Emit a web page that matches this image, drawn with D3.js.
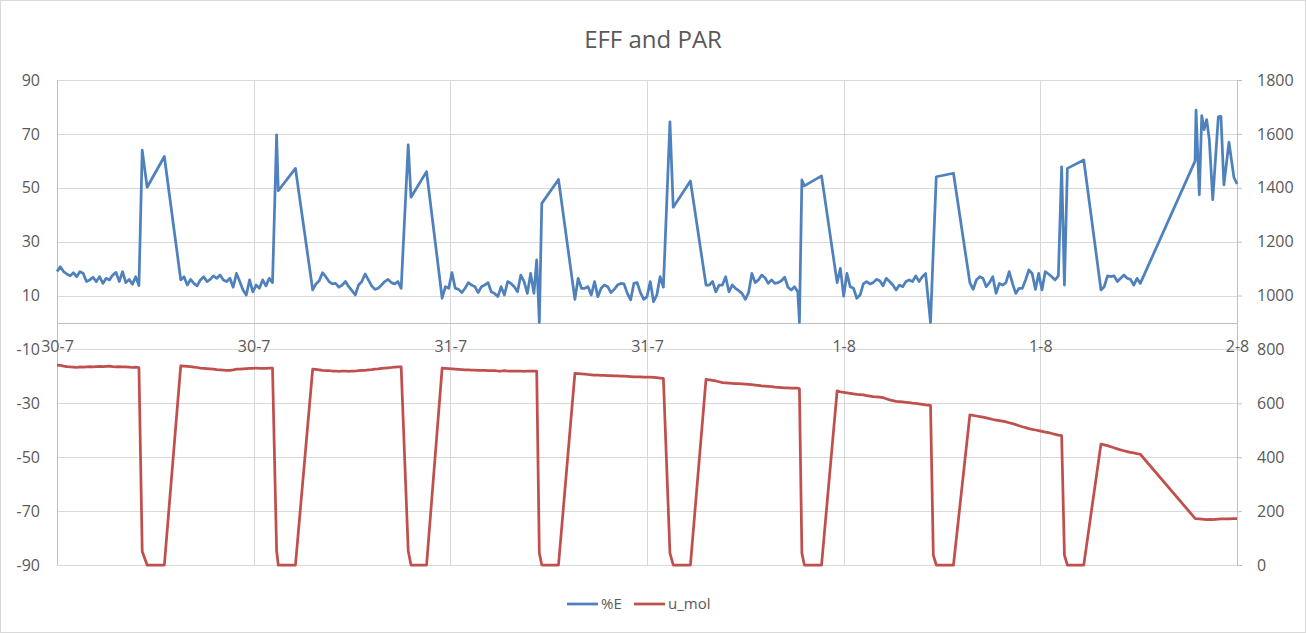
<!DOCTYPE html>
<meta charset="utf-8">
<style>
body { margin: 0; background-color: white; }
svg { display: block; font-family: "Open Sans", sans-serif; }
</style>
<body>
<svg class="chart"></svg>
<script src="https://d3js.org/d3.v7.min.js"></script>
<script>
// day the logger started, axis runs over three days
var startDay = new Date(2019, 6, 30);
var endDay = new Date(2019, 7, 2);

var leftTicks = [-90, -70, -50, -30, -10, 10, 30, 50, 70, 90];
var rightTicks = [0, 200, 400, 600, 800, 1000, 1200, 1400, 1600, 1800];
var seriesNames = ['%E', 'u_mol'];
var seriesColors = ['#4F81BD', '#C0504D'];

// light periods: logger writes every 12 minutes, run start in hours after 30-7 00:00
var sampleStepH = 0.2;
var runStartH = [0, 7.55, 15.6, 23.5, 31.6, 39.6, 47.6, 55.7, 63.7];

var effRuns = [
  [18.9, 20.7, 18.9, 18.0, 17.3, 18.5, 17.0, 18.9, 18.2, 15.2, 15.8, 16.8, 15.2, 17.0, 14.5, 16.4, 15.8, 17.6, 18.6, 15.2, 18.9, 14.8, 16.0, 14.2, 17.0, 13.7],
  [15.8, 17.0, 13.9, 16.0, 14.5, 13.6, 15.8, 17.0, 15.2, 16.0, 17.3, 16.4, 17.6, 15.8, 15.2, 16.4, 13.1, 18.2, 15.2, 12.1, 10.2, 15.8, 11.4, 13.9, 12.7, 15.8, 13.6, 16.4, 14.8],
  [12.1, 14.3, 15.5, 18.5, 17.0, 15.2, 14.3, 14.5, 13.1, 13.9, 15.2, 13.3, 11.8, 10.2, 13.9, 15.2, 18.0, 15.8, 13.6, 12.3, 12.7, 13.9, 15.2, 16.0, 14.8, 14.3, 15.2, 12.7],
  [9.0, 13.3, 12.7, 18.5, 12.7, 12.3, 11.1, 12.7, 14.8, 13.9, 13.3, 11.1, 13.3, 13.9, 14.8, 11.4, 10.8, 9.6, 13.3, 10.2, 15.2, 14.5, 13.3, 11.4, 17.6, 15.2, 10.8, 18.2, 10.8],
  [8.6, 16.4, 12.7, 12.7, 13.3, 10.2, 15.2, 9.6, 12.7, 13.9, 13.3, 11.1, 12.3, 13.9, 14.5, 14.3, 10.8, 8.4, 14.5, 14.8, 11.1, 8.6, 9.6, 15.2, 7.7, 10.2, 17.0, 13.1],
  [13.9, 13.9, 15.2, 11.4, 13.9, 13.9, 17.0, 11.4, 13.9, 12.7, 11.8, 10.8, 8.6, 11.1, 18.2, 14.8, 15.8, 17.6, 16.6, 14.5, 15.8, 14.5, 14.8, 15.5, 16.8, 13.1, 12.1, 13.3, 11.4],
  [14.8, 20.1, 9.8, 18.2, 13.3, 12.7, 9.0, 10.2, 14.3, 15.2, 14.3, 14.8, 16.0, 15.5, 13.6, 16.4, 15.2, 13.9, 12.1, 13.9, 13.3, 15.2, 15.8, 15.2, 17.3, 15.2, 17.0, 18.2],
  [14.8, 12.3, 15.8, 17.0, 16.4, 13.3, 14.8, 17.0, 10.8, 14.5, 13.9, 14.8, 18.9, 14.5, 10.8, 12.7, 12.7, 15.8, 19.5, 18.2, 12.3, 18.2, 12.1, 18.9, 18.0, 17.0, 15.8, 17.3],
  [12.1, 13.3, 17.3, 17.0, 17.3, 15.2, 16.4, 17.6, 16.4, 16.0, 13.9, 16.4, 14.5]
];

var umolRuns = [
  [742, 741, 738, 736, 735, 734, 733, 735, 734, 735, 736, 735, 736, 737, 736, 737, 738, 736, 735, 736, 735, 735, 734, 733, 734, 733],
  [739, 738, 737, 736, 734, 733, 731, 730, 729, 728, 727, 725, 724, 723, 722, 722, 724, 727, 727, 728, 729, 730, 730, 731, 730, 730, 730, 731, 731],
  [727, 726, 724, 722, 721, 721, 720, 720, 719, 720, 720, 719, 720, 720, 721, 722, 722, 724, 725, 727, 728, 730, 731, 732, 733, 734, 735, 735],
  [731, 730, 729, 728, 727, 726, 725, 724, 724, 723, 723, 722, 722, 722, 721, 721, 721, 720, 720, 721, 720, 720, 720, 720, 720, 719, 720, 720, 720],
  [711, 710, 709, 708, 707, 706, 705, 705, 704, 704, 703, 703, 702, 702, 701, 701, 700, 699, 698, 698, 698, 697, 697, 697, 696, 695, 694, 693],
  [689, 687, 685, 683, 680, 677, 676, 675, 674, 673, 673, 672, 671, 670, 669, 668, 667, 665, 664, 663, 662, 660, 659, 658, 657, 657, 656, 656, 656],
  [646, 643, 641, 639, 637, 635, 633, 632, 631, 629, 627, 625, 624, 623, 621, 617, 613, 610, 607, 606, 605, 604, 603, 601, 600, 598, 596, 594],
  [557, 555, 553, 551, 549, 546, 543, 540, 538, 536, 534, 531, 528, 525, 521, 517, 513, 510, 506, 503, 501, 499, 496, 493, 491, 488, 485, 482],
  [449, 446, 443, 439, 435, 431, 427, 424, 421, 418, 416, 413, 411]
];

// sparse readings in the dark spells and at the end
var gapHours = [5.2, 5.5, 6.55, 13.4, 13.5, 14.55, 21.43, 21.6, 22.55, 29.27, 29.43, 29.58, 30.6,
  37.4, 37.6, 38.65, 45.3, 45.45, 45.6, 46.65, 53.3, 53.47, 53.65, 54.7, 61.3, 61.47, 61.65, 62.65,
  69.44, 69.5, 69.7, 69.85, 69.99, 70.15, 70.31, 70.52, 70.86, 71.02, 71.2, 71.51, 71.81, 72];
var gapEff = [64.0, 50.2, 61.6, 69.6, 48.9, 57.2, 65.9, 46.5, 56.0, 23.2, 0, 44.2, 53.1,
  74.5, 42.8, 52.5, 0, 52.9, 50.7, 54.4, 0, 27, 54.1, 55.4, 57.8, 13.9, 57.2, 60.3,
  59.9, 78.8, 47.4, 76.8, 71.6, 75.3, 67.9, 45.6, 76.3, 76.5, 51.1, 66.9, 53.9, 51.4];
var gapUmol = [50, 0, 0, 52, 0, 0, 52, 0, 0, 720, 44, 0, 0,
  44, 0, 0, 655, 44, 0, 0, 592, 37, 0, 0, 480, 37, 0, 0,
  173, 172, 171, 170, 169, 168, 169, 168, 170, 171, 171, 171, 172, 172];
</script>

<script>
var w = 1306, h = 633;
// plot area edges (window.top is taken, so prefix them)
var plotL = 57, plotR = 1237, plotT = 80, plotB = 565;
var grey = '#595959';

// plain numbers, hyphen minus like the spreadsheet
var plain = function (d) { return String(d); };

// put all readings on one time line
var points = [];
runStartH.forEach(function (h0, r) {
  effRuns[r].forEach(function (v, i) {
    points.push({ h: h0 + i * sampleStepH, eff: v, umol: umolRuns[r][i] });
  });
});
gapHours.forEach(function (hr, i) {
  points.push({ h: hr, eff: gapEff[i], umol: gapUmol[i] });
});
points.sort(function (a, b) { return a.h - b.h; });
points.forEach(function (p) { p.t = new Date(startDay.getTime() + p.h * 3600e3); });

var svg = d3.select('svg').attr('width', w).attr('height', h);

svg.append('rect')
  .attr('x', 0.5).attr('y', 0.5)
  .attr('width', w - 1).attr('height', h - 1)
  .attr('fill', 'white').attr('stroke', '#D9D9D9');

var x = d3.scaleTime().domain([startDay, endDay]).range([plotL, plotR]);
var yL = d3.scaleLinear().domain([-90, 90]).range([plotB, plotT]);
var yR = d3.scaleLinear().domain([0, 1800]).range([plotB, plotT]);
var halfDays = d3.timeHour.every(12);

// gridlines
svg.append('g').selectAll('line')
  .data(leftTicks)
  .enter()
  .append('line')
  .attr('x1', plotL).attr('x2', plotR)
  .attr('y1', function (d) { return Math.round(yL(d)) + 0.5; })
  .attr('y2', function (d) { return Math.round(yL(d)) + 0.5; })
  .attr('stroke', '#D9D9D9');

svg.append('g').selectAll('line')
  .data(x.ticks(halfDays))
  .enter()
  .append('line')
  .attr('x1', function (d) { return Math.round(x(d)) + 0.5; })
  .attr('x2', function (d) { return Math.round(x(d)) + 0.5; })
  .attr('y1', plotT).attr('y2', plotB)
  .attr('stroke', '#D9D9D9');

// axes
var axisL = svg.append('g')
  .attr('transform', 'translate(' + plotL + ',0)')
  .call(d3.axisLeft(yL).tickValues(leftTicks).tickFormat(plain).tickSize(0).tickPadding(17));

var axisR = svg.append('g')
  .attr('transform', 'translate(' + plotR + ',0)')
  .call(d3.axisRight(yR).tickValues(rightTicks).tickFormat(plain).tickSize(5).tickPadding(15));

var axisX = svg.append('g')
  .attr('transform', 'translate(0,' + Math.round(yL(0)) + ')')
  .call(d3.axisBottom(x).ticks(halfDays).tickFormat(d3.timeFormat('%-d-%-m')).tickSize(0).tickPadding(18));

[axisL, axisR, axisX].forEach(function (g) {
  g.attr('font-family', null).attr('font-size', null);
  g.select('.domain').attr('stroke', '#BFBFBF');
  g.selectAll('.tick line').attr('stroke', '#BFBFBF');
  g.selectAll('text').attr('fill', grey).style('font-size', '16px');
});
axisL.select('.domain').attr('d', 'M0.5,' + plotT + 'V' + plotB);
axisR.select('.domain').attr('d', 'M0.5,' + plotT + 'V' + plotB);
axisX.select('.domain').attr('d', 'M' + plotL + ',0.5H' + plotR);

// series
var effLine = d3.line()
  .x(function (d) { return x(d.t); })
  .y(function (d) { return yL(d.eff); });
var umolLine = d3.line()
  .x(function (d) { return x(d.t); })
  .y(function (d) { return yR(d.umol); });

svg.append('path')
  .datum(points)
  .attr('d', effLine)
  .attr('fill', 'none')
  .attr('stroke', seriesColors[0])
  .attr('stroke-width', 2.75)
  .attr('stroke-linejoin', 'round');

svg.append('path')
  .datum(points)
  .attr('d', umolLine)
  .attr('fill', 'none')
  .attr('stroke', seriesColors[1])
  .attr('stroke-width', 2.75)
  .attr('stroke-linejoin', 'round');

// title
svg.append('text')
  .attr('x', w / 2).attr('y', 48)
  .attr('text-anchor', 'middle')
  .attr('fill', grey)
  .style('font-size', '24px')
  .text('EFF and PAR');

// legend
var legendX = [567, 634];
var legend = svg.selectAll('.legend')
  .data(seriesNames)
  .enter()
  .append('g')
  .attr('class', 'legend')
  .attr('transform', function (d, i) { return 'translate(' + legendX[i] + ',604)'; });

legend.append('line')
  .attr('x1', 0).attr('x2', 31)
  .attr('stroke', function (d, i) { return seriesColors[i]; })
  .attr('stroke-width', 2.75);

legend.append('text')
  .attr('x', 34).attr('dy', '0.35em')
  .attr('fill', grey)
  .style('font-size', '15px')
  .text(function (d) { return d; });
</script>
</body>
